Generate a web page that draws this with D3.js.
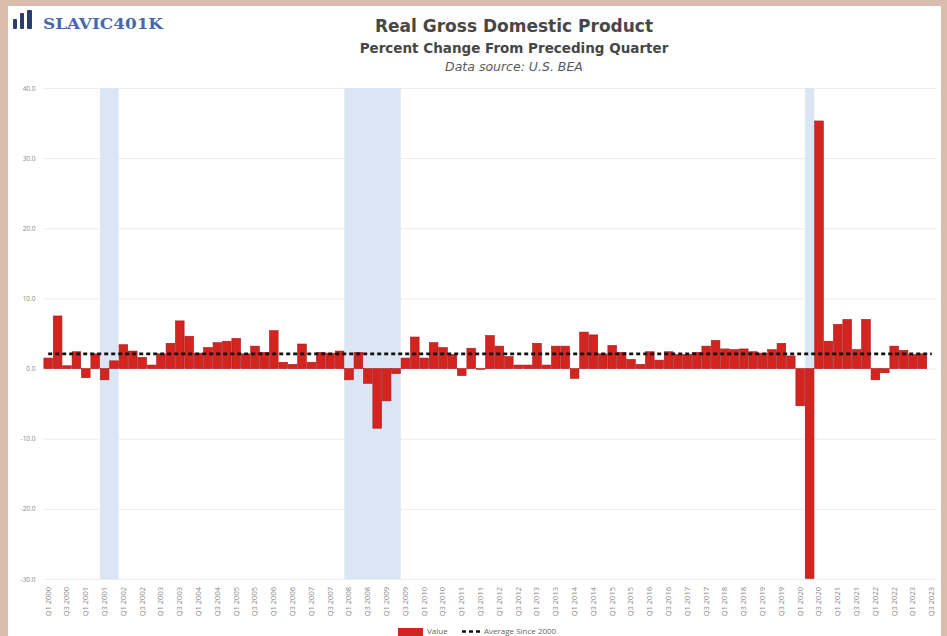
<!DOCTYPE html>
<html>
<head>
<meta charset="utf-8">
<script src="https://cdn.jsdelivr.net/npm/d3@7"></script>
<style>
  html, body { margin: 0; padding: 0; background: #dbbdae; }
  svg { display: block; }
</style>
</head>
<body>
<svg id="chart" width="947" height="636"></svg>
<script>
// Quarterly categories, Q1 2000 through Q3 2023
const quarterLabels = [
  "Q1 2000","Q2 2000","Q3 2000","Q4 2000",
  "Q1 2001","Q2 2001","Q3 2001","Q4 2001",
  "Q1 2002","Q2 2002","Q3 2002","Q4 2002",
  "Q1 2003","Q2 2003","Q3 2003","Q4 2003",
  "Q1 2004","Q2 2004","Q3 2004","Q4 2004",
  "Q1 2005","Q2 2005","Q3 2005","Q4 2005",
  "Q1 2006","Q2 2006","Q3 2006","Q4 2006",
  "Q1 2007","Q2 2007","Q3 2007","Q4 2007",
  "Q1 2008","Q2 2008","Q3 2008","Q4 2008",
  "Q1 2009","Q2 2009","Q3 2009","Q4 2009",
  "Q1 2010","Q2 2010","Q3 2010","Q4 2010",
  "Q1 2011","Q2 2011","Q3 2011","Q4 2011",
  "Q1 2012","Q2 2012","Q3 2012","Q4 2012",
  "Q1 2013","Q2 2013","Q3 2013","Q4 2013",
  "Q1 2014","Q2 2014","Q3 2014","Q4 2014",
  "Q1 2015","Q2 2015","Q3 2015","Q4 2015",
  "Q1 2016","Q2 2016","Q3 2016","Q4 2016",
  "Q1 2017","Q2 2017","Q3 2017","Q4 2017",
  "Q1 2018","Q2 2018","Q3 2018","Q4 2018",
  "Q1 2019","Q2 2019","Q3 2019","Q4 2019",
  "Q1 2020","Q2 2020","Q3 2020","Q4 2020",
  "Q1 2021","Q2 2021","Q3 2021","Q4 2021",
  "Q1 2022","Q2 2022","Q3 2022","Q4 2022",
  "Q1 2023","Q2 2023","Q3 2023"
];

// Real GDP, percent change from preceding quarter (SAAR); latest quarter not yet reported
const gdpChange = [
   1.5,  7.5,  0.4,  2.4,
  -1.3,  2.1, -1.6,  1.1,
   3.4,  2.5,  1.6,  0.5,
   2.1,  3.6,  6.8,  4.6,
   2.2,  3.0,  3.7,  3.9,
   4.3,  2.1,  3.2,  2.3,
   5.4,  0.9,  0.6,  3.5,
   0.9,  2.3,  2.2,  2.5,
  -1.6,  2.3, -2.1, -8.5,
  -4.6, -0.7,  1.5,  4.5,
   1.5,  3.7,  3.0,  2.0,
  -1.0,  2.9, -0.1,  4.7,
   3.2,  1.7,  0.5,  0.5,
   3.6,  0.5,  3.2,  3.2,
  -1.4,  5.2,  4.8,  2.1,
   3.3,  2.3,  1.3,  0.6,
   2.4,  1.2,  2.4,  2.0,
   2.0,  2.3,  3.2,  4.0,
   2.8,  2.7,  2.8,  2.4,
   2.2,  2.7,  3.6,  1.8,
  -5.3, -29.9, 35.3,  3.9,
   6.3,  7.0,  2.7,  7.0,
  -1.6, -0.6,  3.2,  2.6,
   2.0,  2.1,  null
];

// Axis ticks
const yTicks = [-30, -20, -10, 0, 10, 20, 30, 40];
const xTickLabels = quarterLabels.filter((d, i) => i % 2 === 0);

// Recession periods (first and last quarter shaded)
const recessions = [
  ["Q3 2001", "Q4 2001"],
  ["Q1 2008", "Q2 2009"],
  ["Q2 2020", "Q2 2020"]
];

const legendLabels = ["Value", "Average Since 2000"];

const W = 947, H = 636;
const plot = { left: 43.5, right: 936.5, top: 88, bottom: 579 };
const titleFont = "'DejaVu Sans', sans-serif";
const tickFont = "'Open Sans', sans-serif";

const svg = d3.select("#chart");

// white card
svg.append("rect")
  .attr("x", 8).attr("y", 6)
  .attr("width", 933).attr("height", H)
  .attr("fill", "#ffffff");

const x = d3.scaleBand()
  .domain(quarterLabels)
  .range([plot.left, plot.right])
  .paddingInner(0.08)
  .paddingOuter(0.04);

const y = d3.scaleLinear()
  .domain([-30, 40])
  .range([plot.bottom, plot.top]);

const fmt = d3.formatLocale({
  decimal: ".", thousands: ",", grouping: [3], currency: ["$", ""], minus: "-"
}).format(".1f");

// gridlines + y labels
const yAxis = svg.append("g")
  .attr("transform", `translate(${plot.left},0)`)
  .call(d3.axisLeft(y).tickValues(yTicks).tickFormat(fmt)
    .tickSize(-(plot.right - plot.left)).tickPadding(8));
yAxis.select(".domain").remove();
yAxis.selectAll(".tick line").attr("stroke", "#ececec").attr("stroke-width", 1);
yAxis.selectAll(".tick text")
  .attr("fill", "#8a8a8a")
  .style("font-family", tickFont)
  .style("font-size", "6.5px");

// recession shading
const step = x.step();
svg.append("g").selectAll("rect")
  .data(recessions)
  .join("rect")
  .attr("x", d => x(d[0]) - (step - x.bandwidth()) / 2)
  .attr("width", d => x(d[1]) - x(d[0]) + step)
  .attr("y", plot.top)
  .attr("height", plot.bottom - plot.top)
  .attr("fill", "#dae6f4");

// bars
const series = quarterLabels.map((q, i) => ({ q, v: gdpChange[i] }))
  .filter(d => d.v !== null);

svg.append("g").selectAll("rect")
  .data(series)
  .join("rect")
  .attr("x", d => x(d.q))
  .attr("width", x.bandwidth())
  .attr("y", d => y(Math.max(0, d.v)))
  .attr("height", d => Math.abs(y(d.v) - y(0)))
  .attr("fill", "#d3241f")
  .attr("stroke", "#a9171a")
  .attr("stroke-width", 0.6);

// average line across all categories
const avg = d3.mean(series, d => d.v);
svg.append("line")
  .attr("x1", x(quarterLabels[0]) + x.bandwidth() / 2)
  .attr("x2", x(quarterLabels[quarterLabels.length - 1]) + x.bandwidth() / 2)
  .attr("y1", y(avg)).attr("y2", y(avg))
  .attr("stroke", "#111")
  .attr("stroke-width", 2.6)
  .attr("stroke-dasharray", "4,3");

// x axis labels
const xAxis = svg.append("g")
  .attr("transform", `translate(0,${plot.bottom})`)
  .call(d3.axisBottom(x).tickValues(xTickLabels).tickSize(0));
xAxis.select(".domain").remove();
xAxis.selectAll(".tick text")
  .attr("transform", "rotate(-90)")
  .attr("x", -8).attr("y", 0).attr("dy", "0.32em")
  .attr("text-anchor", "end")
  .attr("fill", "#8a8a8a")
  .style("font-family", tickFont)
  .style("font-size", "7.5px");

// titles
svg.append("text")
  .attr("x", 514).attr("y", 32)
  .attr("text-anchor", "middle")
  .attr("fill", "#474747")
  .style("font-family", titleFont)
  .style("font-weight", 700)
  .style("font-size", "17px")
  .text("Real Gross Domestic Product");

svg.append("text")
  .attr("x", 514).attr("y", 53)
  .attr("text-anchor", "middle")
  .attr("fill", "#474747")
  .style("font-family", titleFont)
  .style("font-weight", 700)
  .style("font-size", "13.5px")
  .text("Percent Change From Preceding Quarter");

svg.append("text")
  .attr("x", 514).attr("y", 71)
  .attr("text-anchor", "middle")
  .attr("fill", "#5a5a5a")
  .style("font-family", titleFont)
  .style("font-style", "italic")
  .style("font-size", "12.5px")
  .text("Data source: U.S. BEA");

// logo
const logo = svg.append("g");
[[13, 19, 4, 10], [20, 13, 4, 16], [27, 10, 5, 19]].forEach(([lx, ly, lw, lh]) => {
  logo.append("rect").attr("x", lx).attr("y", ly).attr("width", lw).attr("height", lh)
    .attr("rx", 1).attr("fill", "#2d3d6e");
});
logo.append("text")
  .attr("x", 43).attr("y", 29)
  .attr("fill", "#4868ad")
  .attr("textLength", 120)
  .attr("lengthAdjust", "spacingAndGlyphs")
  .style("font-family", "'DejaVu Serif', serif")
  .style("font-weight", 700)
  .style("font-size", "14px")
  .text("SLAVIC401K");

// legend
const lg = svg.append("g");
lg.append("rect").attr("x", 398).attr("y", 628).attr("width", 25).attr("height", 10)
  .attr("fill", "#d3241f");
lg.append("text").attr("x", 427).attr("y", 634)
  .attr("fill", "#666")
  .style("font-family", tickFont).style("font-size", "8px")
  .text(legendLabels[0]);
lg.append("line").attr("x1", 462).attr("x2", 480).attr("y1", 631.5).attr("y2", 631.5)
  .attr("stroke", "#111").attr("stroke-width", 2.6).attr("stroke-dasharray", "4,3");
lg.append("text").attr("x", 484).attr("y", 634)
  .attr("fill", "#666")
  .style("font-family", tickFont).style("font-size", "8px")
  .text(legendLabels[1]);
</script>
</body>
</html>
